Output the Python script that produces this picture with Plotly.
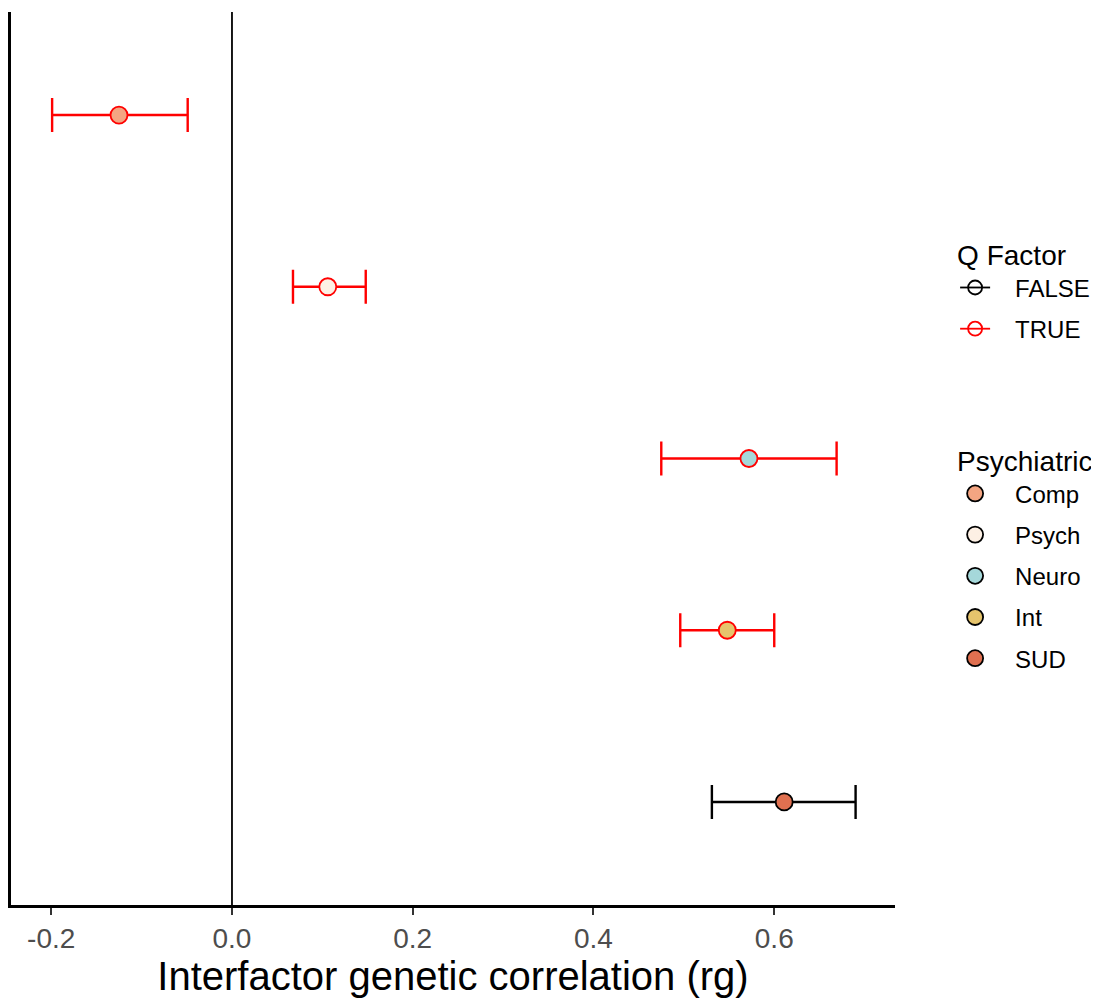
import plotly.graph_objects as go

factors = ["Comp", "Psych", "Neuro", "Int", "SUD"]
rg = [-0.125, 0.106, 0.572, 0.548, 0.611]
ci_low = [-0.199, 0.0675, 0.475, 0.496, 0.531]
ci_high = [-0.049, 0.148, 0.669, 0.600, 0.690]
q_factor = [True, True, True, True, False]
fill_colors = {"Comp": "#F4A582", "Psych": "#FDF0E4", "Neuro": "#A5D8DA",
               "Int": "#E6C46C", "SUD": "#E07050"}
q_colors = {False: "black", True: "#FF0000"}
x_ticks = [-0.2, 0.0, 0.2, 0.4, 0.6]
x_ticklabels = ["-0.2", "0.0", "0.2", "0.4", "0.6"]

FONT = "Liberation Sans, Arial, Helvetica, sans-serif"
PAD = "\u00a0\u00a0\u00a0"

fig = go.Figure()

for f, v, lo, hi, q in zip(factors, rg, ci_low, ci_high, q_factor):
    c = q_colors[q]
    fig.add_trace(go.Scatter(
        x=[v], y=[f], mode="markers",
        marker=dict(size=17, color=fill_colors[f], line=dict(color=c, width=1.8)),
        error_x=dict(type="data", symmetric=False, array=[hi - v], arrayminus=[v - lo],
                     color=c, thickness=2.4, width=17),
        showlegend=False, hoverinfo="x+y",
    ))

# Legend: Q Factor
for q, name in [(False, "FALSE"), (True, "TRUE")]:
    fig.add_trace(go.Scatter(
        x=[None], y=[None], mode="lines+markers", name=PAD + name,
        line=dict(color=q_colors[q], width=1.8),
        marker=dict(symbol="circle-open", size=14, color=q_colors[q], line=dict(width=1.8)),
        legend="legend", legendgroup="q" + name,
    ))

# Legend: Psychiatric
for f in factors:
    fig.add_trace(go.Scatter(
        x=[None], y=[None], mode="markers", name=PAD + f,
        marker=dict(size=16, color=fill_colors[f], line=dict(color="black", width=1.8)),
        legend="legend2", legendgroup="p" + f,
    ))

fig.add_shape(type="line", xref="x", yref="paper", x0=0, x1=0, y0=0, y1=1,
              line=dict(color="black", width=1.8), layer="below")

fig.update_layout(
    width=1099, height=1002,
    margin=dict(l=3, r=212, t=4, b=105, autoexpand=False),
    plot_bgcolor="white", paper_bgcolor="white",
    font=dict(family=FONT, color="black"),
    xaxis=dict(
        range=[-0.2445, 0.7336], tickvals=x_ticks, ticktext=x_ticklabels,
        showgrid=False, zeroline=False, showline=True, linecolor="black", linewidth=2.5,
        ticks="outside", ticklen=7, tickwidth=2.2, tickcolor="#333333",
        tickfont=dict(size=28, color="#4D4D4D", family=FONT),
        title=dict(text="Interfactor genetic correlation (rg)",
                   font=dict(size=40, color="black", family=FONT), standoff=4),
    ),
    yaxis=dict(
        type="category", categoryorder="array", categoryarray=factors,
        range=[4.6, -0.6], showticklabels=False, ticks="",
        showgrid=False, zeroline=False, showline=True, linecolor="black", linewidth=2.5,
    ),
    legend=dict(
        title=dict(text="Q Factor", font=dict(size=28, family=FONT)),
        font=dict(size=24, family=FONT), x=1.068, y=0.757, xanchor="left", yanchor="top",
        bgcolor="rgba(0,0,0,0)", itemsizing="trace", tracegroupgap=7, traceorder="grouped",
    ),
    legend2=dict(
        title=dict(text="Psychiatric", font=dict(size=28, family=FONT)),
        font=dict(size=24, family=FONT), x=1.068, y=0.5264, xanchor="left", yanchor="top",
        bgcolor="rgba(0,0,0,0)", itemsizing="trace", tracegroupgap=7, traceorder="grouped",
    ),
)

fig.write_html("out.html")
